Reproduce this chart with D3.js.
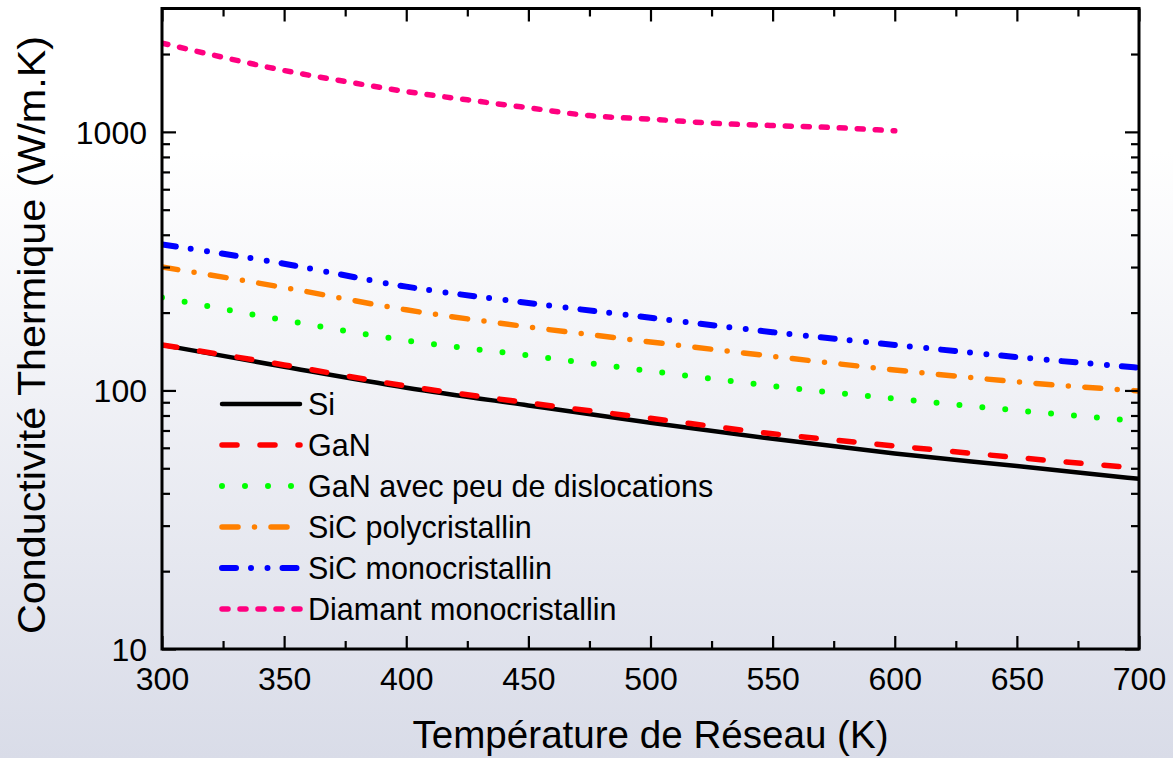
<!DOCTYPE html>
<html>
<head>
<meta charset="utf-8">
<script src="https://cdn.jsdelivr.net/npm/d3@7"></script>
<style>
  html, body { margin: 0; padding: 0; }
  body { width: 1173px; height: 758px; overflow: hidden; }
  svg { display: block; font-family: "Liberation Sans", Arial, sans-serif; }
</style>
</head>
<body>
<svg id="chart" width="1173" height="758"></svg>
<script>
// Lattice temperature (K) sampled every 50 K
const temperatures = [300, 350, 400, 450, 500, 550, 600, 650, 700];

// Thermal conductivity (W/m.K) for each material
const siValues         = [150, 123.5, 102.5, 87.5, 75, 65, 57, 51, 45.5];
const ganValues        = [150, 125.5, 104, 89.5, 78, 68, 61, 55, 50];
const ganLowDislValues = [229, 187, 156, 136.5, 118.8, 104, 92.9, 83.7, 76.1];
const sicPolyValues    = [300, 250, 205, 176, 154, 135.5, 120, 108, 99.5];
const sicMonoValues    = [367, 309, 252, 218, 191, 168, 150, 134.6, 122.4];

// Diamond is only given up to 600 K, every 25 K
const diamondTemps  = [300, 325, 350, 375, 400, 425, 450, 475, 500, 525, 550, 575, 600];
const diamondValues = [2205, 1942, 1727, 1566, 1432, 1330, 1239, 1156, 1120, 1081, 1058, 1039, 1010];

const seriesNames = [
  "Si",
  "GaN",
  "GaN avec peu de dislocations",
  "SiC polycristallin",
  "SiC monocristallin",
  "Diamant monocristallin"
];

const xTickValues = [300, 350, 400, 450, 500, 550, 600, 650, 700];
const yTickValues = [10, 100, 1000];

const xTitle = "Température de Réseau (K)";
const yTitle = "Conductivité Thermique (W/m.K)";

// ---- layout ----
const W = 1173, H = 758;
const plot = { left: 162, right: 1139, top: 8.5, bottom: 649 };

const svg = d3.select("#chart");

// soft vertical background gradient
const defs = svg.append("defs");
const grad = defs.append("linearGradient")
  .attr("id", "bg").attr("x1", 0).attr("y1", 0).attr("x2", 0).attr("y2", 1);
grad.append("stop").attr("offset", "0%").attr("stop-color", "#ffffff");
grad.append("stop").attr("offset", "20%").attr("stop-color", "#ffffff");
grad.append("stop").attr("offset", "100%").attr("stop-color", "#d9dce8");
svg.append("rect").attr("width", W).attr("height", H).attr("fill", "url(#bg)");

defs.append("clipPath").attr("id", "plotClip")
  .append("rect")
  .attr("x", plot.left).attr("y", plot.top)
  .attr("width", plot.right - plot.left).attr("height", plot.bottom - plot.top);

const x = d3.scaleLinear().domain([300, 700]).range([plot.left, plot.right]);
const y = d3.scaleLog().domain([10, 3000]).range([plot.bottom, plot.top]);

// ---- series ----
const zip = (xs, ys) => xs.map((t, i) => [t, ys[i]]);
const series = [
  { name: seriesNames[0], data: zip(temperatures, siValues),         color: "#000000", dash: null,                width: 4.5 },
  { name: seriesNames[1], data: zip(temperatures, ganValues),        color: "#ff0000", dash: "15,23",             width: 5.5 },
  { name: seriesNames[2], data: zip(temperatures, ganLowDislValues), color: "#00ff00", dash: "0,23",              width: 6 },
  { name: seriesNames[3], data: zip(temperatures, sicPolyValues),    color: "#ff8000", dash: "16,16.5,0,16.5",    width: 5.5 },
  { name: seriesNames[4], data: zip(temperatures, sicMonoValues),    color: "#0000ff", dash: "14,15,0,16.5,0,15", width: 6 },
  { name: seriesNames[5], data: zip(diamondTemps, diamondValues),    color: "#ff0080", dash: "6,12",              width: 5.5 }
];

const line = d3.line()
  .x(d => x(d[0]))
  .y(d => y(d[1]))
  .curve(d3.curveMonotoneX);

const curves = svg.append("g").attr("clip-path", "url(#plotClip)");
curves.selectAll("path")
  .data(series)
  .join("path")
  .attr("d", s => line(s.data))
  .attr("fill", "none")
  .attr("stroke", s => s.color)
  .attr("stroke-width", s => s.width)
  .attr("stroke-linecap", "round")
  .attr("stroke-linejoin", "round")
  .attr("stroke-dasharray", s => s.dash);

// ---- axes ----
const xMinor = d3.range(325, 700, 50);
const yMinor = [];
[10, 100, 1000].forEach(dec => {
  for (let k = 2; k <= 9; k++) {
    const v = dec * k;
    if (v < 3000) yMinor.push(v);
  }
});

function styleAxis(g) {
  g.select(".domain").remove();
  g.selectAll(".tick line").attr("stroke", "#000").attr("stroke-width", 2.2);
  g.selectAll(".tick text")
    .attr("fill", "#000")
    .attr("font-size", 32)
    .attr("font-family", "'Liberation Sans', Arial, sans-serif");
}

// bottom
svg.append("g").attr("transform", `translate(0,${plot.bottom})`)
  .call(d3.axisBottom(x).tickValues(xTickValues).tickSizeInner(-13).tickSizeOuter(0).tickPadding(0).tickFormat(d3.format("d")))
  .call(styleAxis)
  .call(g => g.selectAll(".tick text").attr("dy", null).attr("y", 41));
svg.append("g").attr("transform", `translate(0,${plot.bottom})`)
  .call(d3.axisBottom(x).tickValues(xMinor).tickSizeInner(-8).tickSizeOuter(0).tickFormat(""))
  .call(styleAxis);
// top
svg.append("g").attr("transform", `translate(0,${plot.top})`)
  .call(d3.axisTop(x).tickValues(xTickValues).tickSizeInner(-13).tickSizeOuter(0).tickFormat(""))
  .call(styleAxis);
svg.append("g").attr("transform", `translate(0,${plot.top})`)
  .call(d3.axisTop(x).tickValues(xMinor).tickSizeInner(-8).tickSizeOuter(0).tickFormat(""))
  .call(styleAxis);
// left
svg.append("g").attr("transform", `translate(${plot.left},0)`)
  .call(d3.axisLeft(y).tickValues(yTickValues).tickSizeInner(-14).tickSizeOuter(0).tickPadding(14).tickFormat(d3.format("d")))
  .call(styleAxis)
  .call(g => g.selectAll(".tick text").attr("x", -15).attr("dy", "0.36em"));
svg.append("g").attr("transform", `translate(${plot.left},0)`)
  .call(d3.axisLeft(y).tickValues(yMinor).tickSizeInner(-8).tickSizeOuter(0).tickFormat(""))
  .call(styleAxis);
// right
svg.append("g").attr("transform", `translate(${plot.right},0)`)
  .call(d3.axisRight(y).tickValues(yTickValues).tickSizeInner(-14).tickSizeOuter(0).tickFormat(""))
  .call(styleAxis);
svg.append("g").attr("transform", `translate(${plot.right},0)`)
  .call(d3.axisRight(y).tickValues(yMinor).tickSizeInner(-8).tickSizeOuter(0).tickFormat(""))
  .call(styleAxis);

// plot frame
svg.append("rect")
  .attr("x", plot.left).attr("y", plot.top)
  .attr("width", plot.right - plot.left).attr("height", plot.bottom - plot.top)
  .attr("fill", "none").attr("stroke", "#000").attr("stroke-width", 3);

// ---- titles ----
svg.append("text")
  .attr("x", (plot.left + plot.right) / 2)
  .attr("y", 748)
  .attr("text-anchor", "middle")
  .attr("font-size", 38.5)
  .attr("textLength", 476)
  .attr("lengthAdjust", "spacingAndGlyphs")
  .attr("fill", "#000")
  .text(xTitle);

svg.append("text")
  .attr("transform", "translate(45,335) rotate(-90)")
  .attr("text-anchor", "middle")
  .attr("font-size", 39.5)
  .attr("textLength", 598)
  .attr("lengthAdjust", "spacingAndGlyphs")
  .attr("fill", "#000")
  .text(yTitle);

// ---- legend ----
const legend = svg.append("g").attr("transform", "translate(222,404)");
const rowH = 41;
const rows = legend.selectAll("g")
  .data(series)
  .join("g")
  .attr("transform", (d, i) => `translate(0,${i * rowH})`);
rows.append("line")
  .attr("x1", 0).attr("x2", 78).attr("y1", 0).attr("y2", 0)
  .attr("stroke", d => d.color)
  .attr("stroke-width", d => d.width)
  .attr("stroke-linecap", "round")
  .attr("stroke-dasharray", d => d.dash);
rows.append("text")
  .attr("x", 86)
  .attr("y", 11)
  .attr("font-size", 30.5)
  .attr("fill", "#000")
  .text(d => d.name);
</script>
</body>
</html>
